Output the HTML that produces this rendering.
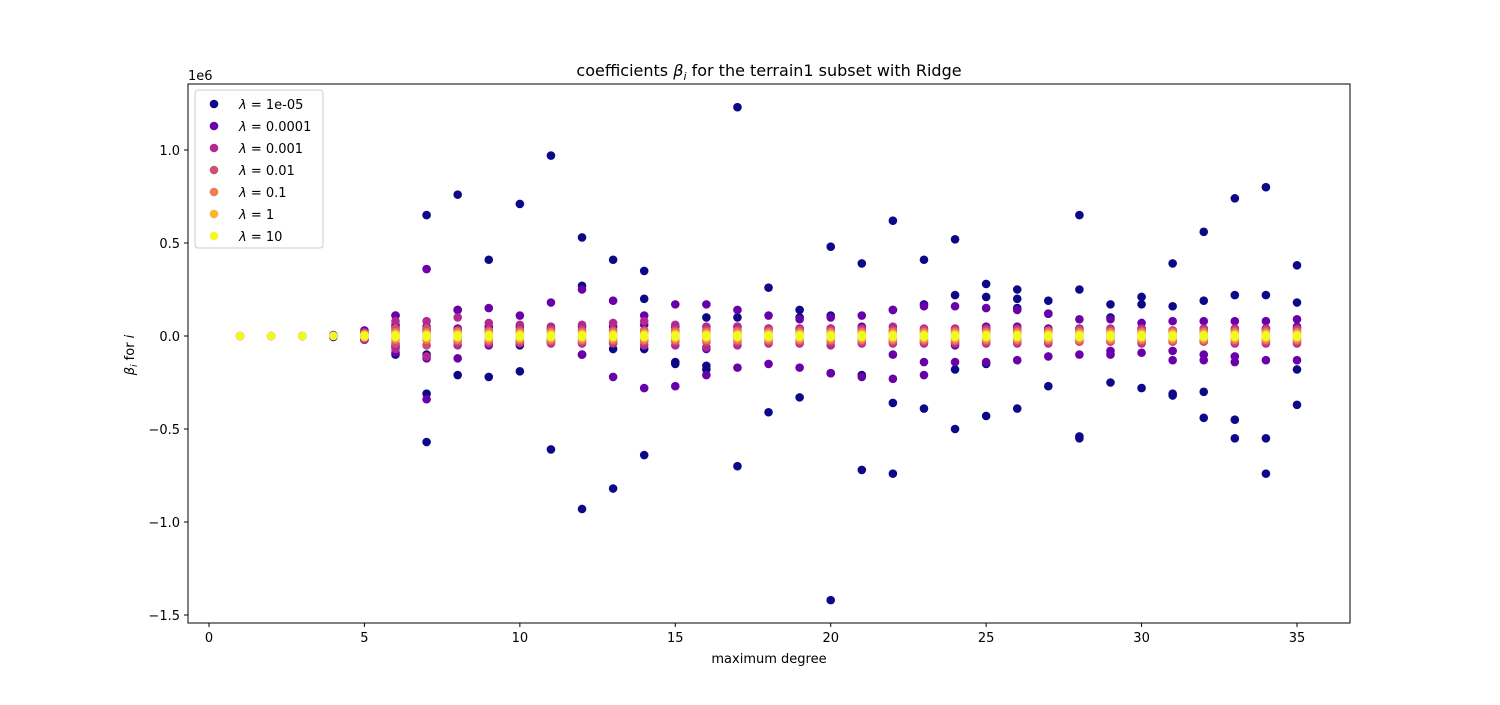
<!DOCTYPE html>
<html><head><meta charset="utf-8"><style>
body{margin:0;background:#fff;font-family:"Liberation Sans","DejaVu Sans",sans-serif}
svg text{font-family:"DejaVu Sans","Liberation Sans",sans-serif}
</style></head><body>
<svg id="chart" width="1500" height="700" xmlns="http://www.w3.org/2000/svg">
<rect x="0" y="0" width="1500" height="700" fill="#fff"/>
<g id="marks"></g>
<rect x="188" y="84" width="1162" height="539" fill="none" stroke="#000" stroke-width="1"/>
<g id="axes"></g>
<text x="769" y="76" text-anchor="middle" font-size="16">coefficients <tspan font-style="italic">β</tspan><tspan font-size="11" font-style="italic" dy="4">i</tspan><tspan dy="-4"> for the terrain1 subset with Ridge</tspan></text>
<text x="188" y="80" font-size="13">1e6</text>
<text x="769" y="663" text-anchor="middle" font-size="13">maximum degree</text>
<text transform="translate(134,355) rotate(-90)" text-anchor="middle" font-size="13"><tspan font-style="italic">β</tspan><tspan font-size="9" font-style="italic" dy="3">i</tspan><tspan dy="-3"> for </tspan><tspan font-style="italic">i</tspan></text>
<g id="legend">
<rect x="195" y="90" width="128" height="158" rx="3" fill="#fff" fill-opacity="0.8" stroke="#ccc"/>
</g>
</svg>
<script>
const degrees=[1,2,3,4,5,6,7,8,9,10,11,12,13,14,15,16,17,18,19,20,21,22,23,24,25,26,27,28,29,30,31,32,33,34,35];
const lambdaLabels=["1e-05","0.0001","0.001","0.01","0.1","1","10"];
const seriesColors=["#0d0887","#6a00a8","#b12a90","#d24e71","#ef7c52","#fdb42f","#f0f921"];
const yTicks=[-1.5,-1.0,-0.5,0.0,0.5,1.0];
const xTicks=[0,5,10,15,20,25,30,35];
// values in units of 1e6, per degree
const lam1e5=[[0],[0],[0],[0.005,-0.005],[0.02,-0.02],[0.11,-0.1,0.05,-0.05],[0.65,-0.31,-0.57,0.03,-0.1],[0.76,-0.21,0.14],[0.41,-0.22,0.03],[0.71,-0.19,-0.05],[0.97,-0.61,-0.03],[0.53,0.27,-0.93,-0.1],[0.41,-0.07,-0.82],[0.35,0.2,-0.07,-0.64],[-0.14,-0.15,0.0],[0.1,-0.16,-0.18],[1.23,0.1,-0.7],[0.26,-0.41],[0.14,0.1,-0.33],[0.48,0.11,-0.2,-1.42],[0.39,-0.21,-0.72],[0.62,0.14,-0.36,-0.74],[0.41,0.17,-0.39],[0.52,0.22,-0.18,-0.5],[0.28,0.21,0.04,-0.15,-0.43],[0.25,0.2,0.15,-0.39],[0.19,0.12,-0.27],[0.65,0.25,-0.54,-0.55],[0.17,0.1,-0.25],[0.21,0.17,-0.28],[0.39,0.16,-0.31,-0.32],[0.56,0.19,-0.3,-0.44],[0.74,0.22,-0.45,-0.55],[0.8,0.22,-0.55,-0.74],[0.38,0.18,-0.18,-0.37]];
const lam1e4=[[0],[0],[0],[0.004,-0.004],[0.03,-0.02],[0.11,-0.09,0.06,-0.06],[0.36,-0.34,0.05,-0.12],[0.14,-0.12,0.04],[0.15,-0.05,0.05],[0.11,-0.03,0.05],[0.18,-0.02,0.04],[0.25,-0.1,0.05],[0.19,-0.22,0.05],[0.11,-0.28,0.06],[0.17,-0.27,0.05],[0.17,-0.21,-0.07],[0.14,-0.17,0.05],[0.11,-0.15,0.04],[0.09,-0.17,0.04],[0.1,-0.2,0.04],[0.11,-0.22,0.05],[0.14,-0.23,-0.1],[0.16,-0.21,-0.14],[0.16,-0.14,-0.05],[0.15,-0.14,0.05],[0.14,-0.13,0.05],[0.12,-0.11,0.04],[0.09,-0.1,0.04],[0.09,-0.1,-0.08],[0.07,-0.09,0.04],[0.08,-0.13,-0.08],[0.08,-0.1,-0.13],[0.08,-0.11,-0.14],[0.08,-0.13,0.04],[0.09,-0.13,0.05]];
const lam1e3=[[0],[0],[0],[0.003],[0.02,-0.02],[0.08,-0.07,0.03],[0.08,-0.11,0.03,-0.05],[0.1,-0.05,0.03],[0.07,-0.04],[0.06,-0.04],[0.05,-0.04],[0.06,-0.04],[0.07,-0.04],[0.08,-0.05],[0.06,-0.05],[0.05,-0.06],[0.05,-0.05],[0.04,-0.04],[0.04,-0.04],[0.04,-0.05],[0.04,-0.04],[0.05,-0.04],[0.04,-0.04],[0.04,-0.04],[0.04,-0.04],[0.04,-0.04],[0.03,-0.04],[0.04,-0.03],[0.04,-0.03],[0.04,-0.04],[0.03,-0.03],[0.04,-0.03],[0.04,-0.04],[0.04,-0.04],[0.04,-0.04]];
const lam1e2=[[0],[0],[0],[0.002],[0.015,-0.01],[0.04,-0.04],[0.04,-0.05],[0.03,-0.03],[0.03,-0.03],[0.03,-0.03],[0.03,-0.03],[0.03,-0.03],[0.03,-0.03],[0.03,-0.03],[0.03,-0.03],[0.03,-0.03],[0.03,-0.03],[0.03,-0.03],[0.03,-0.03],[0.03,-0.03],[0.03,-0.03],[0.03,-0.03],[0.03,-0.03],[0.03,-0.03],[0.03,-0.03],[0.03,-0.03],[0.03,-0.03],[0.03,-0.03],[0.03,-0.03],[0.03,-0.03],[0.03,-0.03],[0.03,-0.03],[0.03,-0.03],[0.03,-0.03],[0.03,-0.03]];
const lam1e1=[[0],[0],[0],[0.001],[0.01,-0.008],[0.02,-0.02],[0.02,-0.02],[0.02,-0.02],[0.02,-0.02],[0.02,-0.02],[0.02,-0.02],[0.02,-0.02],[0.02,-0.02],[0.02,-0.02],[0.02,-0.02],[0.02,-0.02],[0.02,-0.02],[0.02,-0.02],[0.02,-0.02],[0.02,-0.02],[0.02,-0.02],[0.02,-0.02],[0.02,-0.02],[0.02,-0.02],[0.02,-0.02],[0.02,-0.02],[0.02,-0.02],[0.02,-0.02],[0.02,-0.02],[0.02,-0.02],[0.02,-0.02],[0.02,-0.02],[0.02,-0.02],[0.02,-0.02],[0.02,-0.02]];
const lam1=[[0],[0],[0],[0.001],[0.006,-0.005],[0.01,-0.01],[0.01,-0.01],[0.01,-0.01],[0.01,-0.01],[0.01,-0.01],[0.01,-0.01],[0.01,-0.01],[0.01,-0.01],[0.01,-0.01],[0.01,-0.01],[0.01,-0.01],[0.01,-0.01],[0.01,-0.01],[0.01,-0.01],[0.01,-0.01],[0.01,-0.01],[0.01,-0.01],[0.01,-0.01],[0.01,-0.01],[0.01,-0.01],[0.01,-0.01],[0.01,-0.01],[0.01,-0.01],[0.01,-0.01],[0.01,-0.01],[0.01,-0.01],[0.01,-0.01],[0.01,-0.01],[0.01,-0.01],[0.01,-0.01]];
const lam10=[[0],[0],[0],[0],[0.003,-0.002],[0.004,-0.004],[0.004,-0.004],[0.004,-0.004],[0.004,-0.004],[0.004,-0.004],[0.004,-0.004],[0.004,-0.004],[0.004,-0.004],[0.004,-0.004],[0.004,-0.004],[0.004,-0.004],[0.004,-0.004],[0.004,-0.004],[0.004,-0.004],[0.004,-0.004],[0.004,-0.004],[0.004,-0.004],[0.004,-0.004],[0.004,-0.004],[0.004,-0.004],[0.004,-0.004],[0.004,-0.004],[0.004,-0.004],[0.004,-0.004],[0.004,-0.004],[0.004,-0.004],[0.004,-0.004],[0.004,-0.004],[0.004,-0.004],[0.004,-0.004]];
const allSeries=[lam1e5,lam1e4,lam1e3,lam1e2,lam1e1,lam1,lam10];

const NS="http://www.w3.org/2000/svg";
const xScale=d=>209+d*(1297-209)/35;
const yScale=v=>336-v*186;
const marks=document.getElementById('marks');
allSeries.forEach((ser,si)=>{
  ser.forEach((vals,di)=>{
    vals.forEach(v=>{
      const c=document.createElementNS(NS,'circle');
      c.setAttribute('cx',xScale(degrees[di]));
      c.setAttribute('cy',yScale(v));
      c.setAttribute('r',4.3);
      c.setAttribute('fill',seriesColors[si]);
      
      
      marks.appendChild(c);
    });
  });
});
const axes=document.getElementById('axes');
xTicks.forEach(t=>{
  const x=xScale(t);
  const l=document.createElementNS(NS,'line');
  l.setAttribute('x1',x);l.setAttribute('x2',x);l.setAttribute('y1',623);l.setAttribute('y2',627);l.setAttribute('stroke','#000');
  
  
  axes.appendChild(l);
  const tx=document.createElementNS(NS,'text');
  tx.setAttribute('x',x);tx.setAttribute('y',642);tx.setAttribute('text-anchor','middle');tx.setAttribute('font-size','13');
  tx.textContent=t;
  
  
  axes.appendChild(tx);
});
yTicks.forEach(t=>{
  const y=yScale(t);
  const l=document.createElementNS(NS,'line');
  l.setAttribute('x1',184);l.setAttribute('x2',188);l.setAttribute('y1',y);l.setAttribute('y2',y);l.setAttribute('stroke','#000');
  
  
  axes.appendChild(l);
  const tx=document.createElementNS(NS,'text');
  tx.setAttribute('x',180);tx.setAttribute('y',y+5);tx.setAttribute('text-anchor','end');tx.setAttribute('font-size','13');
  tx.textContent=(t<0?'\u2212':'')+Math.abs(t).toFixed(1);
  
  
  axes.appendChild(tx);
});
const legend=document.getElementById('legend');
lambdaLabels.forEach((lab,i)=>{
  const y=104+i*22;
  const c=document.createElementNS(NS,'circle');
  c.setAttribute('cx',214);c.setAttribute('cy',y);c.setAttribute('r',4.3);c.setAttribute('fill',seriesColors[i]);
  
  
  legend.appendChild(c);
  const t=document.createElementNS(NS,'text');
  t.setAttribute('x',239);t.setAttribute('y',y+5);t.setAttribute('font-size','13');
  t.innerHTML='<tspan font-style="italic">λ</tspan> = '+lab;
  
  
  legend.appendChild(t);
});
</script>
</body></html>
